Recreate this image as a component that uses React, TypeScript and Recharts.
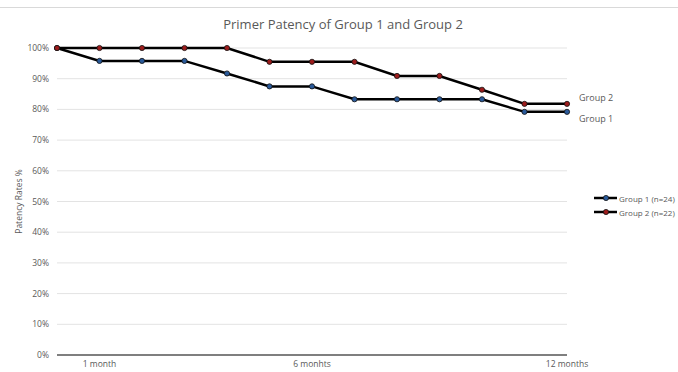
import { LineChart, Line, XAxis, YAxis, CartesianGrid, LabelList } from "recharts";

const periods = ["", "1 month", "", "", "", "", "6 monhts", "", "", "", "", "", "12 months"];
const group1 = [100, 95.8, 95.8, 95.8, 91.7, 87.5, 87.5, 83.3, 83.3, 83.3, 83.3, 79.2, 79.2];
const group2 = [100, 100, 100, 100, 100, 95.5, 95.5, 95.5, 90.9, 90.9, 86.4, 81.8, 81.8];
const yTicks = [0, 10, 20, 30, 40, 50, 60, 70, 80, 90, 100];

const data = periods.map((p, i) => ({ idx: i, period: p, g1: group1[i], g2: group2[i] }));

const FONT = "'Open Sans', 'Noto Sans', sans-serif";
const TEXT = "#595959";
const BLUE = "#2a5a9a";
const RED = "#9c1c1c";

const legendItems = [
  { name: "Group 1 (n=24)", color: BLUE },
  { name: "Group 2 (n=22)", color: RED },
];

function endLabel(text: string, dy: number) {
  return (props: any) => {
    if (props.index !== periods.length - 1) return null;
    return (
      <text x={props.x + 12} y={props.y + dy} fontSize={9} fill={TEXT} fontFamily={FONT} dominantBaseline="middle">
        {text}
      </text>
    );
  };
}

// legend sits outside the chart so it doesn't eat into the plot area
function LegendBox() {
  return (
    <div
      style={{
        position: "absolute",
        left: 594,
        top: 191,
        width: 84,
        whiteSpace: "nowrap",
        fontFamily: FONT,
        fontSize: 8,
        color: TEXT,
      }}
    >
      {legendItems.map((it) => (
        <div key={it.name} style={{ display: "flex", alignItems: "center", height: 14 }}>
          <svg width={24} height={8} style={{ marginRight: 1, flex: "none" }}>
            <line x1={0} y1={4} x2={23} y2={4} stroke="#000" strokeWidth={2.5} />
            <circle cx={12} cy={4} r={2.6} fill={it.color} stroke="#111" strokeWidth={0.8} />
          </svg>
          <span>{it.name}</span>
        </div>
      ))}
    </div>
  );
}

export default function App() {
  return (
    <div style={{ position: "absolute", left: 0, top: 0, width: 678, height: 372, background: "#fff", fontFamily: FONT }}>
      <div style={{ position: "absolute", left: 0, top: 7, width: 678, borderTop: "1px solid #d9d9d9" }} />
      <div
        style={{
          position: "absolute",
          left: 0,
          top: 15,
          width: 686,
          textAlign: "center",
          fontSize: 13,
          color: TEXT,
        }}
      >
        Primer Patency of Group 1 and Group 2
      </div>
      <LineChart width={678} height={372} data={data} margin={{ top: 48, right: 111, bottom: 3, left: 0 }}>
        <CartesianGrid vertical={false} stroke="#e3e3e3" />
        <XAxis
          dataKey="idx"
          type="number"
          domain={[0, periods.length - 1]}
          ticks={data.map((d) => d.idx)}
          tickFormatter={(v: number) => periods[v]}
          interval={0}
          height={14}
          tickLine={false}
          axisLine={{ stroke: "#7f7f7f", strokeWidth: 2 }}
          tick={{ fontSize: 8.5, fill: TEXT, fontFamily: FONT }}
          tickMargin={0}
        />
        <YAxis
          domain={[0, 100]}
          ticks={yTicks}
          tickFormatter={(v: number) => `${v}%`}
          width={57}
          tickLine={false}
          axisLine={false}
          tick={{ fontSize: 8.5, fill: TEXT, fontFamily: FONT }}
          label={{
            content: (p: any) => {
              const vb = p.viewBox;
              const cx = 20;
              const cy = vb.y + vb.height / 2;
              return (
                <text
                  x={cx}
                  y={cy}
                  transform={`rotate(-90 ${cx} ${cy})`}
                  textAnchor="middle"
                  dominantBaseline="middle"
                  fontSize={8.5}
                  fill={TEXT}
                  fontFamily={FONT}
                >
                  Patency Rates %
                </text>
              );
            },
          }}
        />
        <Line
          dataKey="g1"
          name="Group 1 (n=24)"
          type="linear"
          stroke="#000"
          strokeWidth={2.5}
          dot={{ r: 2.6, fill: BLUE, stroke: "#111", strokeWidth: 0.8 }}
          isAnimationActive={false}
        >
          <LabelList dataKey="g1" content={endLabel("Group 1", 8)} />
        </Line>
        <Line
          dataKey="g2"
          name="Group 2 (n=22)"
          type="linear"
          stroke="#000"
          strokeWidth={2.5}
          dot={{ r: 2.6, fill: RED, stroke: "#111", strokeWidth: 0.8 }}
          isAnimationActive={false}
        >
          <LabelList dataKey="g2" content={endLabel("Group 2", -5)} />
        </Line>
      </LineChart>
      <LegendBox />
    </div>
  );
}
